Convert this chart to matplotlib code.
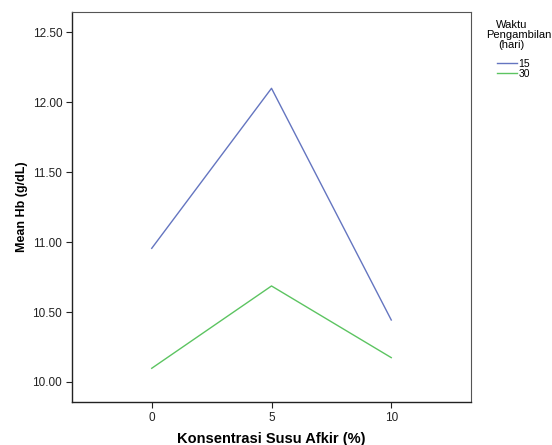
import matplotlib.pyplot as plt
from matplotlib.lines import Line2D

plt.rcParams['font.family'] = ['Liberation Sans', 'DejaVu Sans']

konsentrasi = [0, 5, 10]
hb_15 = [10.955, 12.098, 10.443]
hb_30 = [10.098, 10.686, 10.174]
series_labels = ['15', '30']
yticks = [10.0, 10.5, 11.0, 11.5, 12.0, 12.5]

fig = plt.figure(figsize=(5.52, 4.45), dpi=100)
ax = fig.add_axes([0.1304, 0.0966, 0.7229, 0.8764])

c15 = '#6475c0'
c30 = '#5cc461'
ax.plot(konsentrasi, hb_15, color=c15, lw=1.0)
ax.plot(konsentrasi, hb_30, color=c30, lw=1.0)

ax.set_xlim(-3.33, 13.33)
ax.set_ylim(9.857, 12.643)
ax.set_xticks(konsentrasi)
ax.set_yticks(yticks)
ax.set_yticklabels(['%.2f' % v for v in yticks])
ax.tick_params(labelsize=8.5, length=4, width=0.8, colors='#222222', pad=3)

for s in ['left', 'bottom']:
    ax.spines[s].set_linewidth(1.0)
    ax.spines[s].set_color('#222222')
for s in ['top', 'right']:
    ax.spines[s].set_linewidth(0.8)
    ax.spines[s].set_color('#555555')

ax.set_xlabel('Konsentrasi Susu Afkir (%)', fontsize=10.5, fontweight='bold', labelpad=6)
ax.set_ylabel('Mean Hb (g/dL)', fontsize=9, fontweight='bold', labelpad=3)

# legend title, three lines as in the original layout
fig.text(0.926, 1 - 27.5 / 445, 'Waktu', ha='center', va='baseline', fontsize=8)
fig.text(0.9985, 1 - 38 / 445, 'Pengambilan', ha='right', va='baseline', fontsize=8)
fig.text(0.926, 1 - 47.5 / 445, '(hari)', ha='center', va='baseline', fontsize=8)

handles = [Line2D([0], [0], color=c15, lw=1.0), Line2D([0], [0], color=c30, lw=1.0)]
leg = fig.legend(handles, series_labels, loc='upper left',
                 bbox_to_anchor=(0.9004, 0.8685), frameon=False,
                 fontsize=7.5, handlelength=1.9, handletextpad=0.15,
                 labelspacing=0.05, borderpad=0.0, borderaxespad=0.0)

fig.savefig('out.png', dpi=100)
